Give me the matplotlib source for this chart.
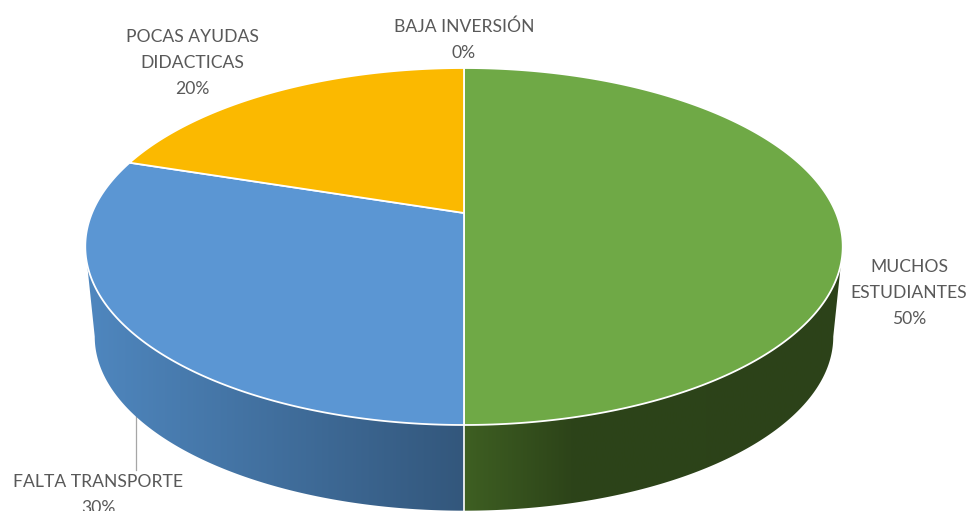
"""3D-looking pie of the causes, drawn by hand with a perspective projection."""
import numpy as np
import matplotlib
matplotlib.use("Agg")
import matplotlib.pyplot as plt
from matplotlib.colors import LinearSegmentedColormap
from matplotlib.patches import Polygon

# clockwise from twelve o'clock
categories = ["MUCHOS\nESTUDIANTES", "FALTA TRANSPORTE", "POCAS AYUDAS\nDIDACTICAS", "BAJA INVERSIÓN"]
shares = [50, 30, 20, 0]
top_colors = ["#6fa946", "#5b96d3", "#fbb900", "#a5a5a5"]
side_colors = [
    [(0, "#3e5f22"), (0.28, "#2d4419"), (1, "#2c4219")],
    [(0, "#4f87bf"), (1, "#33577c")],
    [(0, "#b58500"), (1, "#b58500")],
    [(0, "#777777"), (1, "#777777")],
]

W, H = 969, 511
CX, CY = 464, 213       # where the slices meet
A, B, K = 172.2, 372, 0.1877  # projection of the disc
DROP, SHRINK = 91, 0.975       # lower rim relative to upper rim
TEXT = "#595959"

plt.rcParams["font.family"] = ["Lato", "DejaVu Sans"]


def rim(theta, drop=0.0, scale=1.0):
    # theta in radians, clockwise from the top of the disc
    u, v = np.cos(theta), np.sin(theta)
    d = 1 + K * u
    return np.column_stack([CX + scale * B * v / d, CY + drop - scale * A * u / d])


fig = plt.figure(figsize=(W / 100, H / 100), dpi=100)
ax = fig.add_axes([0, 0, 1, 1])
ax.set_xlim(0, W)
ax.set_ylim(H, 0)
ax.axis("off")

edges = np.cumsum([0] + shares) / sum(shares) * 2 * np.pi
front_start = np.arccos(-K)
front_end = 2 * np.pi - front_start

# side wall first, the top covers whatever is left over
for i, share in enumerate(shares):
    a0, a1 = max(edges[i], front_start), min(edges[i + 1], front_end)
    if share == 0 or a1 <= a0:
        continue
    th = np.linspace(a0, a1, 200)
    outline = np.vstack([rim(th), rim(th[::-1], DROP, SHRINK)])
    x0, x1 = outline[:, 0].min(), outline[:, 0].max()
    cmap = LinearSegmentedColormap.from_list("side%d" % i, side_colors[i])
    grad = np.linspace(0, 1, 256).reshape(1, -1)
    im = ax.imshow(grad, cmap=cmap, extent=(x0, x1, H, 0), aspect="auto", zorder=1)
    im.set_clip_path(Polygon(outline, transform=ax.transData))
    ax.set_xlim(0, W)
    ax.set_ylim(H, 0)

# white seam on the front wall between slices
for e in edges:
    if front_start < e < front_end:
        p0, p1 = rim(np.array([e]))[0], rim(np.array([e]), DROP, SHRINK)[0]
        ax.plot([p0[0], p1[0]], [p0[1], p1[1]], color="white", lw=1.2, zorder=2)

for i, share in enumerate(shares):
    if share == 0:
        continue
    th = np.linspace(edges[i], edges[i + 1], 300)
    pts = np.vstack([[CX, CY], rim(th)])
    ax.add_patch(Polygon(pts, closed=True, facecolor=top_colors[i], edgecolor="white",
                         lw=1.3, joinstyle="round", zorder=3))

# labels
label_xy = [(909, 293), (98, 495), (192, 63), (464, 40)]
for name, share, (x, y) in zip(categories, shares, label_xy):
    ax.text(x, y, "%s\n%d%%" % (name, share), ha="center", va="center", fontsize=12.6,
            color=TEXT, linespacing=1.75, zorder=5)

# leader line of the blue slice
ax.plot([136, 136], [413, 470], color="#a6a6a6", lw=0.9, zorder=0.5)

fig.savefig("out.png", dpi=100)
plt.close(fig)
